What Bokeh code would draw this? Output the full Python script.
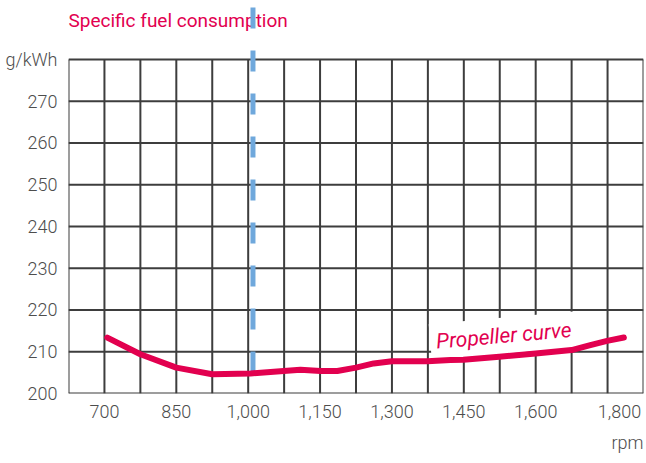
import math
from bokeh.plotting import figure
from bokeh.models import Label, FixedTicker, Range1d, Title
from bokeh.embed import file_html
from bokeh.resources import INLINE

# ---- data ----
rpm = [706, 775, 850, 925, 1005, 1074, 1109, 1151, 1186, 1225, 1262, 1300,
       1339, 1374, 1422, 1449, 1524, 1600, 1675, 1714, 1749, 1784]
sfc = [213.4, 209.4, 206.2, 204.6, 204.8, 205.4, 205.7, 205.4, 205.4, 206.2, 207.2, 207.7,
       207.7, 207.7, 208.0, 208.1, 208.8, 209.6, 210.4, 211.6, 212.6, 213.4]

x_ticks = [700, 850, 1000, 1150, 1300, 1450, 1600, 1775]
x_labels = ["700", "850", "1,000", "1,150", "1,300", "1,450", "1,600", "1,800"]
y_ticks = [200, 210, 220, 230, 240, 250, 260, 270, 280]
y_labels = ["200", "210", "220", "230", "240", "250", "260", "270", "g/kWh"]
x_grid = [625, 700, 775, 850, 925, 1000, 1075, 1150, 1225, 1300, 1375, 1450,
          1525, 1600, 1675, 1750, 1825]
marker_rpm = 1010

title_text = "Specific fuel consumption"
curve_label = "Propeller curve"
x_unit = "rpm"

# ---- style ----
CRIMSON = "#E2004F"
BLUE = "#6FA8DC"
GRID = "#3d3d3d"
LABEL = "#4d4d4d"
FONT = "Roboto"
LIGHT = "'Roboto Light', Roboto"

X0, X1 = 625, 1825
Y0, Y1 = 200, 294.13

p = figure(width=646, height=463, x_range=Range1d(X0, X1), y_range=Range1d(Y0, Y1),
           output_backend="svg", toolbar_location=None,
           min_border_left=68, min_border_right=3, min_border_top=0, min_border_bottom=70)
p.outline_line_color = None
p.xgrid.grid_line_color = None
p.ygrid.grid_line_color = None
p.background_fill_color = "white"
p.border_fill_color = "white"

for ax in (p.xaxis[0], p.yaxis[0]):
    ax.axis_line_color = None
    ax.major_tick_line_color = None
    ax.minor_tick_line_color = None
    ax.major_tick_in = 0
    ax.major_tick_out = 0
    ax.major_label_text_font = LIGHT
    ax.major_label_text_font_size = "18px"
    ax.major_label_text_color = LABEL

p.xaxis.ticker = FixedTicker(ticks=x_ticks)
p.xaxis.major_label_overrides = {t: l for t, l in zip(x_ticks, x_labels)}
p.xaxis.major_label_standoff = 11
p.yaxis.ticker = FixedTicker(ticks=y_ticks)
p.yaxis.major_label_overrides = {t: l for t, l in zip(y_ticks, y_labels)}
p.yaxis.major_label_standoff = 11

# unit label below the x axis, right aligned with the frame
p.add_layout(Title(text=x_unit, align="right", text_font=LIGHT, text_font_size="18px",
                   text_font_style="normal", text_color=LABEL, standoff=19), "below")

# grid
p.segment(x0=x_grid, y0=[y_ticks[0]] * len(x_grid), x1=x_grid, y1=[y_ticks[-1]] * len(x_grid),
          line_color=GRID, line_width=2, level="image")
p.segment(x0=[X0] * len(y_ticks), y0=y_ticks, x1=[X1] * len(y_ticks), y1=y_ticks,
          line_color=GRID, line_width=2, level="image")

# title
p.add_layout(Label(x=X0, y=289.3, text=title_text, text_font=FONT, text_font_size="19px",
                   text_color=CRIMSON, text_baseline="middle", text_align="left",
                   level="underlay"))

# curve label with white box
p.add_layout(Label(x=1380, y=212.3, text=curve_label, text_font=FONT, text_font_size="21px",
                   text_font_style="italic", text_color=CRIMSON, text_baseline="middle",
                   text_align="left", angle=math.radians(5), background_fill_color="white",
                   padding=6, level="underlay"))

# blue dashed marker
p.segment(x0=[marker_rpm], y0=[292.45], x1=[marker_rpm], y1=[Y0], line_color=BLUE,
          line_width=5, line_dash="21 22")

# curve
p.line(rpm, sfc, line_color=CRIMSON, line_width=6, line_cap="round", line_join="round")

open("out.html", "w").write(file_html(p, INLINE))
